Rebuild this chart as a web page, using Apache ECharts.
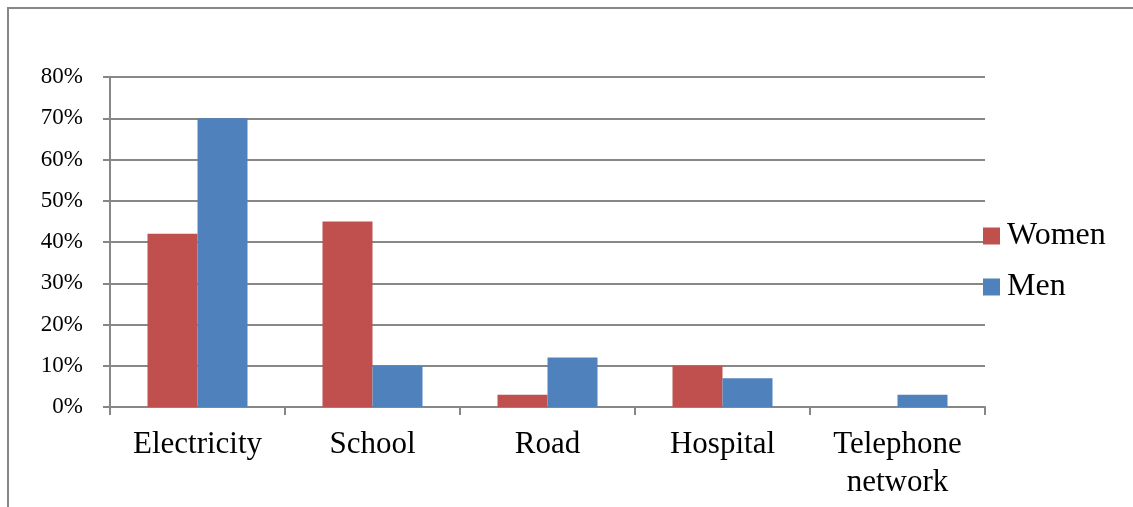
<!DOCTYPE html>
<html>
<head>
<meta charset="utf-8">
<script src="https://cdn.jsdelivr.net/npm/echarts@6/dist/echarts.min.js"></script>
<style>
  html, body { margin: 0; padding: 0; background: #fff; }
  #chart { width: 1133px; height: 507px; }
</style>
</head>
<body>
<div id="chart"></div>
<script>
// data
const categories = ['Electricity', 'School', 'Road', 'Hospital', 'Telephone\nnetwork'];
const women = [0.42, 0.45, 0.03, 0.10, 0];
const men = [0.70, 0.10, 0.12, 0.07, 0.03];

const font = '"Liberation Serif", "Times New Roman", serif';
const gridColor = '#878787';

const chart = echarts.init(document.getElementById('chart'));

chart.setOption({
    animation: false,
    textStyle: { fontFamily: font, color: '#000' },
    // outer chart frame (cut off on the right and bottom in the picture)
    graphic: [{
        type: 'rect',
        shape: { x: 8, y: 8, width: 1300, height: 700 },
        style: { fill: 'none', stroke: gridColor, lineWidth: 2 },
        silent: true
    }],
    grid: { left: 110, right: 148, top: 77, bottom: 100 },
    legend: {
        orient: 'vertical',
        left: 978,
        top: 215,
        itemWidth: 17,
        itemHeight: 17,
        itemGap: 19,
        icon: 'rect',
        textStyle: { fontFamily: font, fontSize: 32, lineHeight: 32, color: '#000', padding: [0, 0, 0, 2] },
        data: ['Women', 'Men']
    },
    xAxis: {
        type: 'category',
        data: categories,
        axisLine: { lineStyle: { color: gridColor, width: 2 } },
        axisTick: { show: true, length: 8, lineStyle: { color: gridColor, width: 2 } },
        axisLabel: { fontFamily: font, fontSize: 31, color: '#000', margin: 19, lineHeight: 38 }
    },
    yAxis: {
        type: 'value',
        min: 0,
        max: 0.8,
        interval: 0.1,
        axisLine: { show: true, lineStyle: { color: gridColor, width: 2 } },
        axisTick: { show: true, length: 7, lineStyle: { color: gridColor, width: 2 } },
        splitLine: { lineStyle: { color: gridColor, width: 2 } },
        axisLabel: {
            fontFamily: font, fontSize: 23, color: '#000', margin: 27,
            formatter: v => Math.round(v * 100) + '%'
        }
    },
    series: [
        {
            name: 'Women', type: 'bar', data: women,
            barWidth: 50, barGap: '0%',
            itemStyle: { color: '#C0504D' }
        },
        {
            name: 'Men', type: 'bar', data: men,
            barWidth: 50, barGap: '0%',
            itemStyle: { color: '#4F81BD' }
        }
    ]
});
</script>
</body>
</html>
